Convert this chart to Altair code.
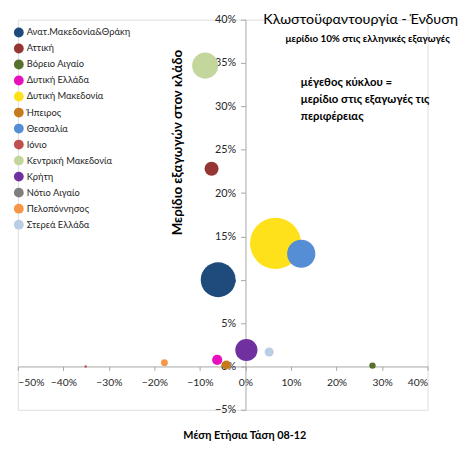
import altair as alt
import pandas as pd

regions = ["Ανατ.Μακεδονία&Θράκη", "Αττική", "Βόρειο Αιγαίο", "Δυτική Ελλάδα",
           "Δυτική Μακεδονία", "Ήπειρος", "Θεσσαλία", "Ιόνιο", "Κεντρική Μακεδονία",
           "Κρήτη", "Νότιο Αιγαίο", "Πελοπόννησος", "Στερεά Ελλάδα"]
colors = ["#1F4A7C", "#963634", "#56722C", "#E80FBF", "#FFE11B", "#C57A1B",
          "#558ED5", "#C0504D", "#C3D69B", "#7030A0", "#7F7F7F", "#F79646", "#B9CDE5"]
trend = [-0.060, -0.0745, 0.279, -0.062, 0.066, -0.042, 0.1225, -0.351, -0.0885,
         0.002, -0.042, -0.178, 0.052]
share_sector = [0.100, 0.228, 0.001, 0.0075, 0.142, 0.0018, 0.130, 0.000, 0.347,
                0.019, 0.001, 0.0044, 0.0167]
share_region = [21.0, 3.4, 0.7, 1.8, 45.0, 1.4, 13.7, 0.1, 11.7, 8.5, 0.6, 0.8, 1.4]

df = pd.DataFrame({"region": regions, "trend": trend, "share": share_sector,
                   "size": share_region, "ord": list(range(len(regions)))})
# hidden small bubble drawn first
df.loc[df.region == "Νότιο Αιγαίο", "ord"] = -1

FONT = "Lato"
W, H = 417, 397
XMIN, XMAX, YMIN, YMAX = -0.5, 0.4, -0.05, 0.4
x0 = W * (0 - XMIN) / (XMAX - XMIN)
y0 = H * (YMAX - 0) / (YMAX - YMIN)

x = alt.X("trend:Q", scale=alt.Scale(domain=[XMIN, XMAX], nice=False, zero=False),
          axis=alt.Axis(format=".0%", values=[-0.5, -0.4, -0.3, -0.2, -0.1, 0, 0.1, 0.2, 0.3, 0.4],
                        offset=-(H - y0), grid=False, title=None, tickSize=4,
                        labelPadding=7, domainColor="#A6A6A6", tickColor="#A6A6A6",
                        labelFont=FONT, labelFontSize=10.5, labelColor="#262626"))
y = alt.Y("share:Q", scale=alt.Scale(domain=[YMIN, YMAX], nice=False, zero=False),
          axis=alt.Axis(format=".0%", values=[-0.05, 0, 0.05, 0.1, 0.15, 0.2, 0.25, 0.3, 0.35, 0.4],
                        offset=-x0, grid=False, title=None, tickSize=5,
                        labelPadding=5, domainColor="#A6A6A6", tickColor="#A6A6A6",
                        labelFont=FONT, labelFontSize=11, labelColor="#262626"))

bubbles = alt.Chart(df).mark_circle(opacity=1).encode(
    x=x, y=y,
    size=alt.Size("size:Q", scale=alt.Scale(domain=[0, 45], range=[0, 2700]), legend=None),
    color=alt.Color("region:N", scale=alt.Scale(domain=regions, range=colors),
                    legend=alt.Legend(title=None, orient="none", legendX=-4, legendY=8,
                                      symbolType="circle", symbolSize=100, symbolStrokeWidth=0,
                                      labelFont=FONT, labelFontSize=9.5, labelColor="#262626",
                                      rowPadding=6.3, labelOffset=3, padding=0)),
    order=alt.Order("ord:Q"),
)

def txt(text, px, py, size, bold=True, angle=0, align="left"):
    kw = dict(font=FONT, fontSize=size, fontWeight="bold" if bold else "normal",
              color="black", align=align, baseline="middle")
    if angle:
        kw["angle"] = angle
    return alt.Chart(pd.DataFrame({"t": [text]})).mark_text(**kw).encode(
        text="t:N", x=alt.value(px), y=alt.value(py))

ox, oy = 18, 16  # page position of plot origin
layers = [
    bubbles,
    txt("Κλωστοϋφαντουργία - Ένδυση", 466 - ox, 16 - oy, 14.5, bold=False, align="right"),
    txt("μερίδιο 10% στις ελληνικές εξαγωγές", 374 - ox, 36 - oy, 10, align="center"),
    txt(" μέγεθος κύκλου =", 306 - ox, 80 - oy, 11.5),
    txt("μερίδιο στις εξαγωγές τις", 306 - ox, 98 - oy, 11.5),
    txt("περιφέρειας", 306 - ox, 115 - oy, 11.5),
    txt("Μερίδιο εξαγωγών στον κλάδο", 181 - ox, 141 - oy, 13.5, angle=270, align="center"),
    txt("Μέση Ετήσια Τάση 08-12", 249 - ox, 440 - oy, 11, align="center"),
]

chart = alt.layer(*layers).properties(
    width=W, height=H,
    autosize=alt.AutoSizeParams(type="none"),
    padding={"left": 10, "top": 8, "right": 33, "bottom": 36},
).configure_view(stroke=None).configure(background="white")

chart.save("out.html", embed_options={"renderer": "svg", "actions": False})
